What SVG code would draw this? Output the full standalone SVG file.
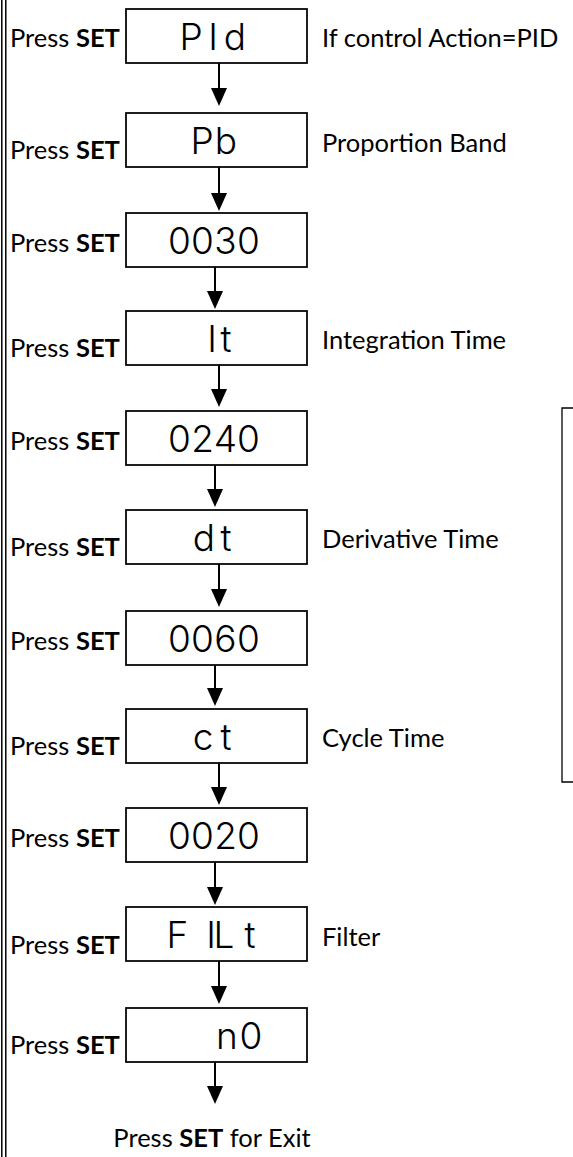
<svg xmlns="http://www.w3.org/2000/svg" width="573" height="1157" viewBox="0 0 573 1157">
<style>
.box{fill:#fff;stroke:#000;stroke-width:1.75}
.lbl{font-family:Lato,"Liberation Sans",sans-serif;font-size:25.5px;fill:#000}
.b{font-weight:bold}
.seg{font-family:Inter,"DejaVu Sans",sans-serif;font-weight:300;font-size:37px;fill:#000;text-anchor:middle}
.con{stroke:#000;stroke-width:2;fill:none}
</style>
<defs>
<marker id="ah" markerUnits="userSpaceOnUse" markerWidth="18" markerHeight="16" viewBox="0 0 18 16" refX="9" refY="8" orient="auto">
<path d="M0,0 L18,8 L0,16 z" fill="#000"/>
</marker>
</defs>
<rect width="573" height="1157" fill="#fff"/>
<g id="frame" stroke="#000" stroke-width="1.5">
<line x1="1.8" y1="0" x2="1.8" y2="1157"/>
<line x1="5.8" y1="0" x2="5.8" y2="1157"/>
<path d="M573,408 H562 V782 H573" fill="none" stroke-width="1.3"/>
</g>
<g id="connectors" class="con" marker-end="url(#ah)">
<line x1="219" y1="63" x2="219" y2="97"/>
<line x1="219" y1="167" x2="219" y2="202"/>
<line x1="215" y1="267" x2="215" y2="300"/>
<line x1="219" y1="365" x2="219" y2="398"/>
<line x1="215" y1="465" x2="215" y2="498"/>
<line x1="219" y1="564" x2="219" y2="598"/>
<line x1="215" y1="665" x2="215" y2="697"/>
<line x1="219" y1="763" x2="219" y2="796"/>
<line x1="215" y1="862" x2="215" y2="896"/>
<line x1="219" y1="961" x2="219" y2="995"/>
<line x1="215" y1="1062" x2="215" y2="1095"/>
</g>
<g id="n1">
<rect class="box" x="126" y="9" width="181" height="54"/>
<text class="seg" x="191 202 213 235" y="50">P Id</text>
<text class="lbl" x="10" y="47">Press <tspan class="b">SET</tspan></text>
<text class="lbl" x="322" y="47">If control Action=PID</text>
</g>
<g id="n2">
<rect class="box" x="126" y="113" width="181" height="54"/>
<text class="seg" x="202 226" y="154">Pb</text>
<text class="lbl" x="10" y="159">Press <tspan class="b">SET</tspan></text>
<text class="lbl" x="322" y="152">Proportion Band</text>
</g>
<g id="n3">
<rect class="box" x="126" y="213" width="181" height="54"/>
<text class="seg" x="179.5 202.5 225.5 248.5" y="254">0030</text>
<text class="lbl" x="10" y="252">Press <tspan class="b">SET</tspan></text>
</g>
<g id="n4">
<rect class="box" x="126" y="311" width="181" height="54"/>
<text class="seg" x="212 226" y="352">It</text>
<text class="lbl" x="10" y="357">Press <tspan class="b">SET</tspan></text>
<text class="lbl" x="322" y="349">Integration Time</text>
</g>
<g id="n5">
<rect class="box" x="126" y="411" width="181" height="54"/>
<text class="seg" x="179.5 202.5 225.5 248.5" y="452">0240</text>
<text class="lbl" x="10" y="450">Press <tspan class="b">SET</tspan></text>
</g>
<g id="n6">
<rect class="box" x="126" y="510" width="181" height="54"/>
<text class="seg" x="204 226" y="551">dt</text>
<text class="lbl" x="10" y="556">Press <tspan class="b">SET</tspan></text>
<text class="lbl" x="322" y="548">Derivative Time</text>
</g>
<g id="n7">
<rect class="box" x="126" y="611" width="181" height="54"/>
<text class="seg" x="179.5 202.5 225.5 248.5" y="652">0060</text>
<text class="lbl" x="10" y="650">Press <tspan class="b">SET</tspan></text>
</g>
<g id="n8">
<rect class="box" x="126" y="709" width="181" height="54"/>
<text class="seg" x="203 226" y="750">ct</text>
<text class="lbl" x="10" y="755">Press <tspan class="b">SET</tspan></text>
<text class="lbl" x="322" y="747">Cycle Time</text>
</g>
<g id="n9">
<rect class="box" x="126" y="808" width="181" height="54"/>
<text class="seg" x="179.5 202.5 225.5 248.5" y="849">0020</text>
<text class="lbl" x="10" y="847">Press <tspan class="b">SET</tspan></text>
</g>
<g id="n10">
<rect class="box" x="126" y="907" width="181" height="54"/>
<text class="seg" x="177.5 195 211 224 250" y="948">F ILt</text>
<text class="lbl" x="10" y="954">Press <tspan class="b">SET</tspan></text>
<text class="lbl" x="322" y="946">Filter</text>
</g>
<g id="n11">
<rect class="box" x="126" y="1008" width="181" height="54"/>
<text class="seg" x="227 251" y="1049">n0</text>
<text class="lbl" x="10" y="1054">Press <tspan class="b">SET</tspan></text>
</g>
<g id="exit">
<text class="lbl" x="212" y="1147" text-anchor="middle">Press <tspan class="b">SET</tspan> for Exit</text>
</g>
</svg>
